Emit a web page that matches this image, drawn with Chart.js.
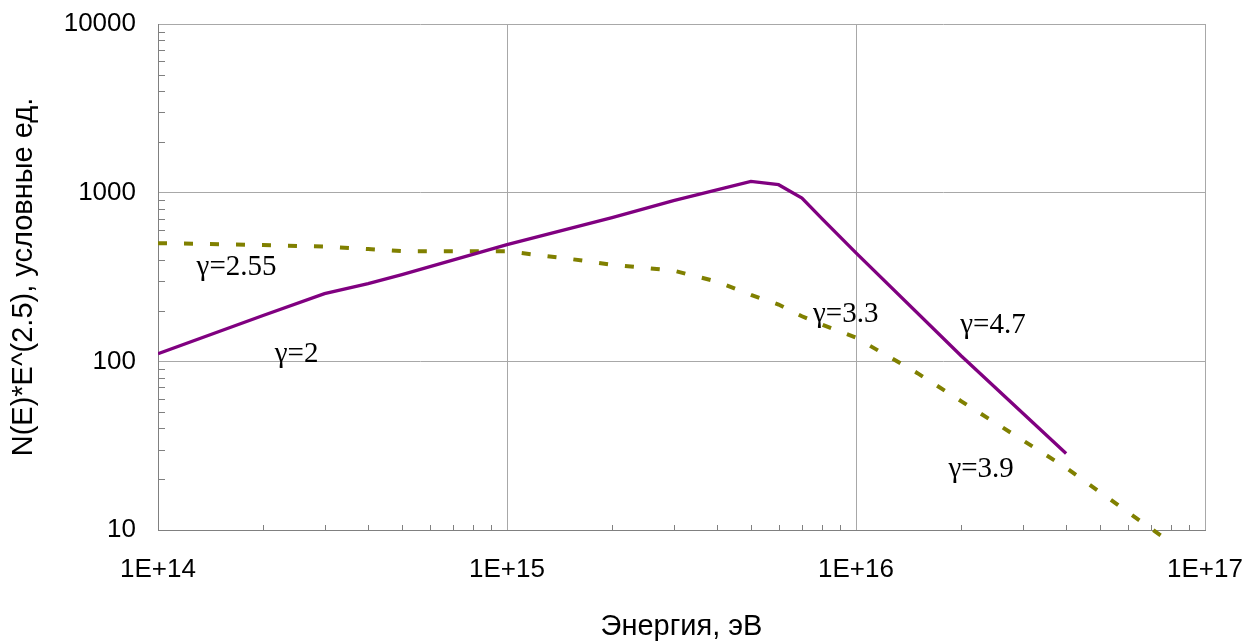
<!DOCTYPE html>
<html>
<head>
<meta charset="utf-8">
<script src="https://cdn.jsdelivr.net/npm/chart.js@4.4.1/dist/chart.umd.min.js"></script>
<style>
  html, body { margin: 0; padding: 0; background: #ffffff; }
  #wrap { width: 1255px; height: 642px; }
</style>
</head>
<body>
<div id="wrap"><canvas id="chart" width="1255" height="642"></canvas></div>
<script>
// Axis decades
const energyTicks = [1e14, 1e15, 1e16, 1e17];
const fluxTicks = [10, 100, 1000, 10000];

// Spectrum with knee at 5 PeV (solid)
const energyKnee = [1e14, 2e14, 3e14, 4e14, 5e14, 1e15, 2e15, 3e15, 5e15, 6e15, 7e15, 8e15, 1e16, 2e16, 4e16];
const fluxKnee   = [111, 187, 252, 289, 327, 492, 711, 897, 1167, 1115, 930, 700, 440, 108, 28.4];

// Smooth spectrum (dashed)
const energySmooth = [1e14, 2e14, 3e14, 4e14, 5e14, 1e15, 1.5e15, 2e15, 3e15, 4e15, 5e15, 6e15, 7e15, 8e15, 1e16, 1.5e16, 2e16, 3e16, 4e16, 6e16, 8e16];
const fluxSmooth   = [502, 489, 479, 463, 450, 449, 406, 374, 345, 297, 248, 217, 185, 165, 138, 85.1, 58.1, 34.1, 23.4, 12.8, 8.4];

// Spectral index notes, anchored in data coordinates (left edge, baseline)
const slopeText   = ['γ=2.55', 'γ=2', 'γ=3.3', 'γ=4.7', 'γ=3.9'];
const slopeEnergy = [1.29e14, 2.16e14, 7.53e15, 1.99e16, 1.84e16];
const slopeFlux   = [327, 99.6, 172, 148, 20.5];

const SANS = '"Liberation Sans", Arial, sans-serif';
const SERIF = '"Liberation Serif", "Times New Roman", serif';

// Short inward tick marks at 2..9 of every decade
const minorTicks = {
  id: 'minorTicks',
  beforeDatasetsDraw(chart) {
    const { ctx, chartArea, scales: { x, y } } = chart;
    ctx.save();
    ctx.strokeStyle = '#808080';
    ctx.lineWidth = 1;
    ctx.beginPath();
    for (let d = x.min; d < x.max; d *= 10) {
      for (let k = 2; k <= 9; k++) {
        const px = Math.round(x.getPixelForValue(k * d)) + 0.5;
        ctx.moveTo(px, chartArea.bottom);
        ctx.lineTo(px, chartArea.bottom - 5);
      }
    }
    for (let d = y.min; d < y.max; d *= 10) {
      for (let k = 2; k <= 9; k++) {
        const py = Math.round(y.getPixelForValue(k * d)) + 0.5;
        ctx.moveTo(chartArea.left, py);
        ctx.lineTo(chartArea.left + 7, py);
      }
    }
    ctx.stroke();
    ctx.restore();
  }
};

const slopeNotes = {
  id: 'slopeNotes',
  afterDatasetsDraw(chart) {
    const { ctx, scales: { x, y } } = chart;
    ctx.save();
    ctx.font = '29px ' + SERIF;
    ctx.fillStyle = '#000000';
    ctx.textAlign = 'left';
    ctx.textBaseline = 'alphabetic';
    slopeText.forEach((t, i) => {
      ctx.fillText(t, x.getPixelForValue(slopeEnergy[i]), y.getPixelForValue(slopeFlux[i]));
    });
    ctx.restore();
  }
};

const toPoints = (xs, ys) => xs.map((e, i) => ({ x: e, y: ys[i] }));

new Chart(document.getElementById('chart'), {
  type: 'line',
  data: {
    datasets: [
      {
        data: toPoints(energyKnee, fluxKnee),
        borderColor: '#800080',
        borderWidth: 3.3,
        pointRadius: 0,
        tension: 0,
        fill: false
      },
      {
        data: toPoints(energySmooth, fluxSmooth),
        borderColor: '#808000',
        borderWidth: 4,
        borderDash: [9, 17],
        borderCapStyle: 'butt',
        pointRadius: 0,
        tension: 0,
        fill: false,
        clip: false
      }
    ]
  },
  options: {
    responsive: false,
    animation: false,
    devicePixelRatio: 1,
    layout: { padding: { top: 24, right: 50, left: 0, bottom: 0 } },
    plugins: { legend: { display: false }, tooltip: { enabled: false } },
    scales: {
      x: {
        type: 'logarithmic',
        position: 'bottom',
        min: 1e14,
        max: 1e17,
        afterBuildTicks: s => { s.ticks = energyTicks.map(v => ({ value: v })); },
        afterFit: s => { s.height = 112; s.paddingLeft = 0; s.paddingRight = 0; },
        grid: { color: '#a8a8a8', lineWidth: 1, drawTicks: false },
        border: { color: '#808080', width: 1 },
        ticks: {
          callback: v => '1E+' + Math.round(Math.log10(v)),
          font: { family: SANS, size: 26, lineHeight: 1 },
          color: '#000000',
          padding: 27,
          maxRotation: 0,
          autoSkip: false
        },
        title: {
          display: true,
          text: 'Энергия, эВ',
          font: { family: SANS, size: 29, lineHeight: 1 },
          color: '#000000',
          padding: { top: 0, bottom: 1 }
        }
      },
      y: {
        type: 'logarithmic',
        position: 'left',
        min: 10,
        max: 10000,
        afterBuildTicks: s => { s.ticks = fluxTicks.map(v => ({ value: v })); },
        afterFit: s => { s.width = 158; s.paddingTop = 0; s.paddingBottom = 0; },
        grid: { color: '#a8a8a8', lineWidth: 1, drawTicks: false },
        border: { color: '#808080', width: 1 },
        ticks: {
          callback: v => String(Math.round(v)),
          font: { family: SANS, size: 26, lineHeight: 1 },
          color: '#000000',
          padding: 22,
          autoSkip: false
        },
        title: {
          display: true,
          text: 'N(E)*E^(2.5), условные ед.',
          font: { family: SANS, size: 29, lineHeight: 1 },
          color: '#000000',
          padding: { top: 9, bottom: 0 }
        }
      }
    }
  },
  plugins: [minorTicks, slopeNotes]
});
</script>
</body>
</html>
